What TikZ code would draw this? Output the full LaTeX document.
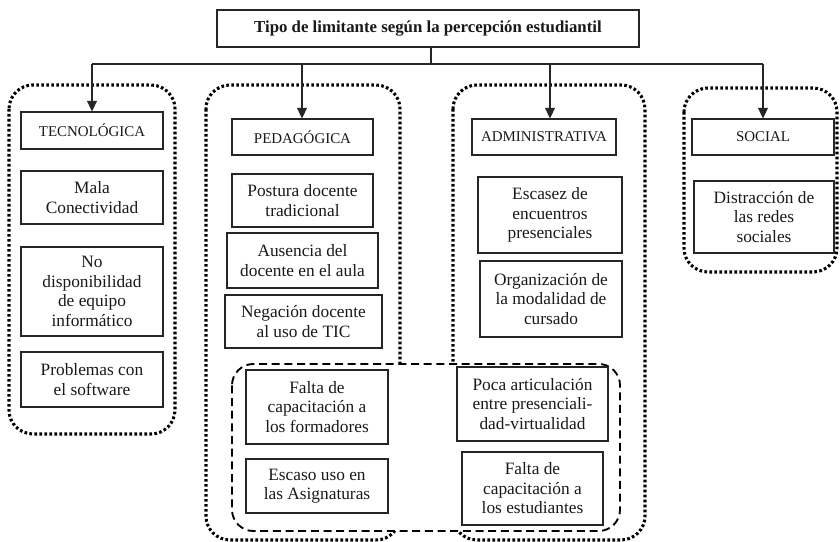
\documentclass[tikz,border=0pt]{standalone}
\usepackage{fontspec}
\setmainfont{Liberation Serif}
\usetikzlibrary{arrows.meta}
\begin{document}
\begin{tikzpicture}[x=0.75pt,y=-0.75pt,
  ink/.style={draw=black!85},
  box/.style={ink, line width=0.8pt, fill=white, inner sep=0pt, align=center, text=black!90,
     font=\rmfamily\fontsize{13}{14.6}\selectfont},
  capbox/.style={box, font=\rmfamily\fontsize{11.2}{13}\selectfont},
  titlebox/.style={box, font=\rmfamily\bfseries\fontsize{12.6}{14}\selectfont},
  wh/.style 2 args={minimum width=#1*0.75pt, minimum height=#2*0.75pt},
  dotgroup/.style={draw=black, line width=2.3pt, dash pattern=on 2pt off 1.75pt, rounded corners=18pt},
  dashgroup/.style={draw=black, line width=1.4pt, dash pattern=on 6pt off 3.5pt, rounded corners=16pt, fill=white},
  link/.style={ink, line width=0.8pt},
  arr/.style={link, -{Triangle[length=8pt,width=7.5pt]}}
]
\useasboundingbox (0,0) rectangle (840,542);

% dotted groups
\draw[dotgroup] (9,85) rectangle (175,434);
\draw[dotgroup] (206,85) rectangle (400,540);
\draw[dotgroup] (453,85) rectangle (645,540);
\draw[dotgroup] (684,88) rectangle (837,272);
% dashed group
\draw[dashgroup] (232,364) rectangle (620,531);

% title
\node[titlebox, wh={422}{37}] (title) at (428,28.5) {Tipo de limitante según la percepción estudiantil};

% headers
\node[capbox, wh={142}{37}] (tec) at (92,130.5) {TECNOLÓGICA};
\node[capbox, wh={141}{36}] (ped) at (302.5,137) {PEDAGÓGICA};
\node[capbox, wh={144}{36}] (adm) at (544,137) {ADMINISTRATIVA};
\node[capbox, wh={142}{36}] (soc) at (763,137) {SOCIAL};

% tecnologica
\node[box, wh={142}{53}] (mala) at (92,197.5) {Mala\\Conectividad};
\node[box, wh={142}{89}] (nodisp) at (92,291.5) {No\\disponibilidad\\de equipo\\informático};
\node[box, wh={142}{55}] (prob) at (92,379.5) {Problemas con\\el software};

% pedagogica
\node[box, wh={141}{53}] (post) at (302.5,200.5) {Postura docente\\tradicional};
\node[box, wh={151}{55}] (aus) at (302.5,260.5) {Ausencia del\\docente en el aula};
\node[box, wh={157}{53}] (neg) at (303.5,321.5) {Negación docente\\al uso de TIC};
\node[box, wh={142}{74}] (falta1) at (317,407) {Falta de\\capacitación a\\los formadores};
\node[box, wh={142}{54}] (escaso) at (317,486) {Escaso uso en\\las Asignaturas};

% administrativa
\node[box, wh={144}{76}] (esc) at (550,215) {Escasez de\\encuentros\\presenciales};
\node[box, wh={142}{76}] (org) at (551,299) {Organización de\\la modalidad de\\cursado};
\node[box, wh={151}{74}] (poca) at (532.5,404) {Poca articulación\\entre presenciali-\\dad-virtualidad};
\node[box, wh={141}{73}] (falta2) at (532.5,488.5) {Falta de\\capacitación a\\los estudiantes};

% social
\node[box, wh={140}{72}] (dist) at (764,217) {Distracción de\\las redes\\sociales};

% connectors
\coordinate (hub) at (431,64);
\coordinate (b1) at (92,64);
\coordinate (b2) at (302,64);
\coordinate (b3) at (550,64);
\coordinate (b4) at (763,64);
\draw[link] (title.south -| hub) -- (hub);
\draw[link] (b1) -- (b4);
\draw[arr] (b1) -- (b1 |- tec.north);
\draw[arr] (b2) -- (b2 |- ped.north);
\draw[arr] (b3) -- (b3 |- adm.north);
\draw[arr] (b4) -- (b4 |- soc.north);
\end{tikzpicture}
\end{document}
